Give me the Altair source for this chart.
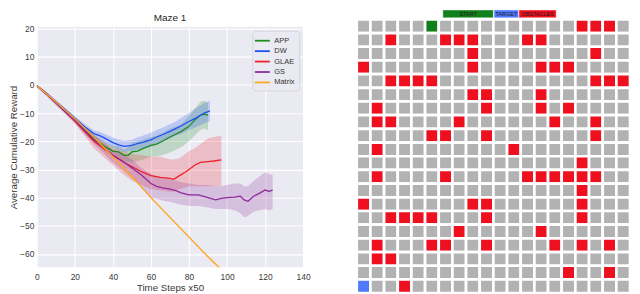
import altair as alt
import pandas as pd

# ---------------- line chart data ----------------
SERIES = ["APP", "DW", "GLAE", "GS", "Matrix"]
COLORS = ["#1f8c1f", "#1f4ff5", "#f0202a", "#8e2a9a", "#ffa520"]

APP_X = [0, 5, 10, 15, 20, 25, 30, 33, 36, 40, 43, 46, 48, 50, 53, 56, 60, 63, 66, 70, 73, 76, 80, 83, 86, 88, 90]
APP_Y = [-0.3, -3.2, -6.3, -9.3, -12.5, -15.5, -19, -20.5, -22, -23.5, -23.8, -25, -25, -23.8, -23.5, -22.5,
         -21.5, -21, -20, -18.5, -17.5, -16.5, -14.7, -12.5, -10.8, -10.4, -10.7]
APP_LO = [-0.6, -3.7, -6.9, -10, -13.3, -16.5, -20.2, -22, -23.7, -25.5, -26, -27, -27.3, -27.5, -27, -26.5,
          -25.5, -25.3, -25, -24, -23, -22, -20, -18, -16, -15.5, -16]
APP_HI = [0, -2.7, -5.7, -8.6, -11.7, -14.5, -17.8, -19, -20.3, -21.5, -21.8, -23, -22, -20.5, -20, -19.5,
          -18.5, -18, -17, -15.5, -14.8, -14, -11, -8.5, -6, -5.5, -6.5]

DW_X = [0, 5, 10, 15, 20, 25, 30, 33, 36, 40, 43, 46, 50, 53, 56, 60, 63, 66, 70, 73, 76, 80, 83, 86, 88, 91]
DW_Y = [-0.3, -3, -6, -8.8, -11.8, -14.8, -17.3, -18, -19, -20.5, -21.3, -21.8, -21.5, -20.8, -20.3, -19.5,
        -18.5, -17.7, -16.5, -15.5, -14.5, -13, -12, -10.8, -10, -9.2]
DW_LO = [-0.6, -3.5, -6.6, -9.5, -12.6, -15.8, -18.5, -19.4, -20.6, -22.3, -23.2, -23.8, -23.5, -23, -22.6, -22,
         -21, -20.2, -19, -18, -17.3, -16, -15.2, -14.3, -13.6, -13]
DW_HI = [0, -2.5, -5.4, -8.1, -11, -13.8, -16.1, -16.6, -17.4, -18.7, -19.4, -19.8, -19.5, -18.6, -18, -17,
         -16, -15.2, -14, -13, -11.7, -10, -8.6, -7.3, -6.4, -5.6]

GLAE_X = [0, 5, 10, 15, 20, 25, 30, 35, 40, 45, 50, 55, 60, 65, 70, 72, 75, 78, 80, 83, 86, 90, 93, 97]
GLAE_Y = [-0.3, -3.2, -6.3, -9.5, -12.8, -16.5, -20, -22.5, -25, -27.2, -29, -30.8, -32.2, -32.8, -33.2, -33.5,
          -32.2, -31, -30, -28.5, -27.5, -27.2, -27, -26.6]
GLAE_LO = [-0.7, -3.9, -7.1, -10.4, -13.8, -18, -22.5, -25.5, -28.5, -31.5, -34, -35.5, -37, -37.5, -38, -37.8,
           -37, -36.5, -36, -36, -36, -36, -36, -36]
GLAE_HI = [0, -2.5, -5.5, -8.6, -11.8, -15, -18, -20.5, -22.5, -23.5, -24.5, -25, -25.5, -25.5, -26.5, -26.5,
           -26, -24.5, -23.5, -22.5, -21, -19, -18.5, -18]

GS_X = [0, 5, 10, 15, 20, 25, 30, 35, 40, 45, 50, 55, 60, 63, 66, 70, 73, 76, 80, 85, 90, 94, 97, 100, 104,
        107, 109, 111, 114, 117, 120, 122, 124]
GS_Y = [-0.3, -3.2, -6.3, -9.5, -12.5, -16, -19.5, -22, -25, -27, -29.5, -32, -35, -36, -36.5, -37, -37.5,
        -38.3, -39, -39, -40, -40.8, -40.3, -40, -39.8, -39.5, -40.8, -41.3, -39.5, -38.5, -37.3, -37.8, -37.3]
GS_LO = [-0.7, -3.9, -7.1, -10.3, -13.5, -17.3, -21, -24.2, -27.5, -30.2, -33, -36, -40, -40.5, -41, -41.5,
         -42, -42.5, -43, -43, -43.5, -44, -44, -44, -44.5, -45.5, -47, -46.5, -45, -44.5, -44, -44.5, -44]
GS_HI = [0, -2.5, -5.5, -8.7, -11.5, -14.8, -18, -20, -23, -24.5, -26.5, -29.5, -31.5, -32.5, -33, -33.5,
         -34, -34.5, -35, -35.5, -35.5, -36, -36, -35.5, -35, -35, -36, -36, -34, -32.5, -31, -31.5, -32]

MATRIX_X = [0, 10, 20, 30, 40, 50, 60, 70, 80, 90, 97]
MATRIX_Y = [-0.3, -6, -12, -18.5, -25.5, -32.5, -40, -47, -54, -61, -65.5]
MATRIX_LO = [-0.6, -6.4, -12.4, -18.9, -25.9, -32.9, -40.4, -47.4, -54.4, -61.4, -65.9]
MATRIX_HI = [0, -5.6, -11.6, -18.1, -25.1, -32.1, -39.6, -46.6, -53.6, -60.6, -65.1]

X_TICKS = [0, 20, 40, 60, 80, 100, 120, 140]
Y_TICKS = [20, 10, 0, -10, -20, -30, -40, -50, -60]

# ---------------- maze data ----------------
N_ROWS = 20
N_COLS = 20
START_CELL = (0, 5)      # (row, col)
TARGET_CELL = (19, 0)
OBSTACLE_COLS = [
    [16, 17, 18],
    [2, 6, 7, 8, 12, 13],
    [8, 17],
    [0, 8, 13, 14, 15],
    [2, 3, 4, 5, 17, 18, 19],
    [8, 9, 13],
    [1, 9, 13, 15],
    [1, 2, 7, 14, 17],
    [5, 6, 9, 17],
    [1, 11],
    [16],
    [1, 6, 12, 13, 14, 15, 16, 17],
    [16],
    [0, 8, 9, 16],
    [2, 3, 4, 5, 9, 16],
    [7, 13],
    [1, 5, 6, 9, 14, 16, 18],
    [1, 2],
    [15, 18],
    [3],
]
KINDS = ["free", "START", "TARGET", "OBSTACLES"]
KIND_COLORS = ["#b2b2b2", "#12801a", "#5079fb", "#ee0f1f"]
LEGEND_LABELS = ["START", "TARGET", "OBSTACLES"]
LEGEND_X0 = [6.3, 10.05, 11.87]
LEGEND_X1 = [10.0, 11.85, 14.6]
LEGEND_Y0 = -0.69
LEGEND_Y1 = -0.11

FONT = "Liberation Sans"

# ---------------- build tables ----------------
rows = []
for name, xs, ys, lo, hi in [
    ("APP", APP_X, APP_Y, APP_LO, APP_HI),
    ("DW", DW_X, DW_Y, DW_LO, DW_HI),
    ("GLAE", GLAE_X, GLAE_Y, GLAE_LO, GLAE_HI),
    ("GS", GS_X, GS_Y, GS_LO, GS_HI),
    ("Matrix", MATRIX_X, MATRIX_Y, MATRIX_LO, MATRIX_HI),
]:
    for a, b, c, d in zip(xs, ys, lo, hi):
        rows.append({"series": name, "x": a, "y": b, "lo": c, "hi": d})
df = pd.DataFrame(rows)

cells = []
for r in range(N_ROWS):
    for c in range(N_COLS):
        kind = "free"
        if c in OBSTACLE_COLS[r]:
            kind = "OBSTACLES"
        if (r, c) == START_CELL:
            kind = "START"
        if (r, c) == TARGET_CELL:
            kind = "TARGET"
        cells.append({"c0": c, "c1": c + 1, "r0": r, "r1": r + 1, "kind": kind})
grid_df = pd.DataFrame(cells)

leg_df = pd.DataFrame({
    "kind": LEGEND_LABELS,
    "x0": LEGEND_X0,
    "x1": LEGEND_X1,
})
leg_df["xm"] = (leg_df["x0"] + leg_df["x1"]) / 2
leg_df["y0"] = LEGEND_Y0
leg_df["y1"] = LEGEND_Y1
leg_df["ym"] = (leg_df["y0"] + leg_df["y1"]) / 2

# ---------------- left: line chart ----------------
cscale = alt.Scale(domain=SERIES, range=COLORS)
xscale = alt.Scale(domain=[0, 140], nice=False, zero=False)
yscale = alt.Scale(domain=[-64.7, 20.6], nice=False, zero=False)

xaxis = alt.Axis(values=X_TICKS, title="Time Steps x50", grid=True, gridColor="white", gridWidth=1.1,
                 domain=False, ticks=False, labelPadding=5, titlePadding=2, labelFontSize=8.5,
                 titleFontSize=9.8, labelColor="#3a3a3a", titleColor="#3a3a3a", labelFont=FONT,
                 titleFont=FONT, titleFontWeight="normal", labelOverlap=False, labelFlush=False)
yaxis = alt.Axis(values=Y_TICKS, title="Average Cumulative Reward", grid=True, gridColor="white",
                 gridWidth=1.1, domain=False, ticks=False, labelPadding=3, titlePadding=1,
                 labelFontSize=8.5, titleFontSize=9.8, labelColor="#3a3a3a", titleColor="#3a3a3a",
                 labelFont=FONT, titleFont=FONT, titleFontWeight="normal", labelOverlap=False,
                 labelFlush=False)
legend = alt.Legend(
    title=None, orient="top-right", offset=4, symbolType="M-1.5,0L1.5,0", symbolSize=100,
    symbolStrokeWidth=1.8, symbolOpacity=1, labelFontSize=7.5, labelFont=FONT, labelColor="#333333",
    rowPadding=0.5, padding=4, fillColor="#eaeaf2", strokeColor="#d6d6dc", cornerRadius=3,
    labelOffset=6)

X_ENC = alt.X("x:Q", scale=xscale, axis=xaxis)
COLOR_ENC = alt.Color("series:N", scale=cscale, legend=legend)

band = alt.Chart(df).mark_area(opacity=0.22, clip=True).encode(
    x=X_ENC,
    y=alt.Y("lo:Q", scale=yscale, axis=yaxis, stack=None),
    y2="hi:Q",
    color=COLOR_ENC,
)
line = alt.Chart(df).mark_line(strokeWidth=1.3, clip=True).encode(
    x=X_ENC,
    y=alt.Y("y:Q", scale=yscale, axis=yaxis),
    color=COLOR_ENC,
)
left = alt.layer(band, line).properties(
    width=268, height=242,
    title=alt.TitleParams("Maze 1", fontSize=10, font=FONT, fontWeight="normal", color="#262626", offset=2),
    view=alt.ViewBackground(fill="#eaeaf2", stroke=None),
)

# ---------------- right: maze grid ----------------
kscale = alt.Scale(domain=KINDS, range=KIND_COLORS)
gx = alt.Scale(domain=[0, 20], nice=False, zero=False)
gy = alt.Scale(domain=[0.543, 20], nice=False, zero=False, reverse=True)

cells_layer = alt.Chart(grid_df).mark_rect(stroke="white", strokeWidth=2.7).encode(
    x=alt.X("c0:Q", scale=gx, axis=None),
    x2="c1:Q",
    y=alt.Y("r0:Q", scale=gy, axis=None),
    y2="r1:Q",
    color=alt.Color("kind:N", scale=kscale, legend=None),
)
leg_boxes = alt.Chart(leg_df).mark_rect(strokeWidth=0.8, stroke="#ffffff", strokeOpacity=0.6).encode(
    x=alt.X("x0:Q", scale=gx, axis=None),
    x2="x1:Q",
    y=alt.Y("y0:Q", scale=gy, axis=None),
    y2="y1:Q",
    color=alt.Color("kind:N", scale=kscale, legend=None),
)
leg_text = alt.Chart(leg_df).mark_text(fontSize=5.5, font=FONT, color="#1a1a1a", baseline="middle",
                                       align="center").encode(
    x=alt.X("xm:Q", scale=gx, axis=None),
    y=alt.Y("ym:Q", scale=gy, axis=None),
    text="kind:N",
)
right = alt.layer(cells_layer, leg_boxes, leg_text).properties(
    width=275, height=268,
    view=alt.ViewBackground(fill="white", stroke=None),
)

chart = (
    alt.hconcat(left, right, spacing=44)
    .resolve_scale(color="independent")
    .properties(padding=0)
    .configure(background="white")
)

chart.save("out.html", embed_options={"renderer": "svg", "actions": False})
